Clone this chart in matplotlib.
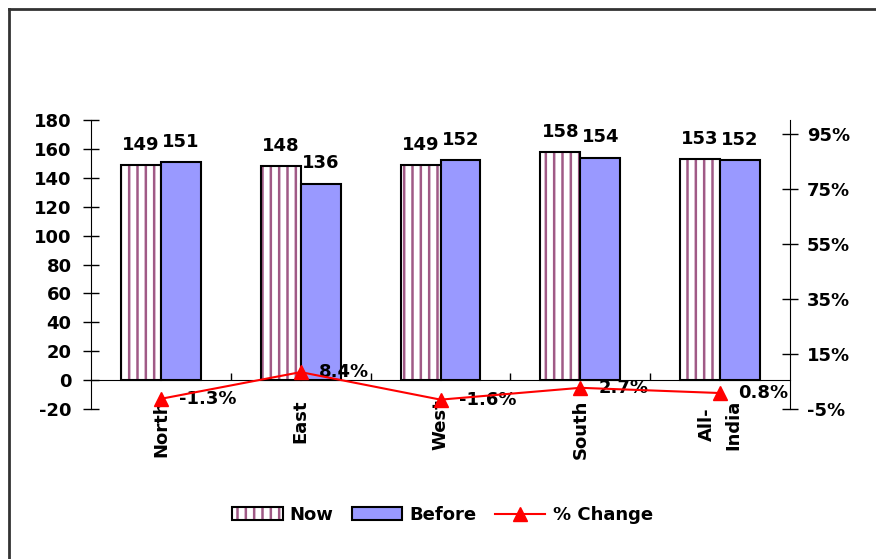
import numpy as np
import matplotlib.pyplot as plt
from matplotlib.lines import Line2D
from matplotlib.patches import Patch
from matplotlib.legend_handler import HandlerTuple

regions = ["North", "East", "West", "South", "All-\nIndia"]
now = [149, 148, 149, 158, 153]
before = [151, 136, 152, 154, 152]
pct_change = [-1.3, 8.4, -1.6, 2.7, 0.8]

plt.rcParams['font.family'] = ['DejaVu Sans']
plt.rcParams['font.weight'] = 'bold'
plt.rcParams['font.size'] = 13
plt.rcParams['hatch.linewidth'] = 1.8
plt.rcParams['axes.unicode_minus'] = False

stripe = '#a05a86'
blue = '#9999ff'

fig = plt.figure(figsize=(8.76, 5.59), dpi=100)
ax = fig.add_axes([91/876, 1 - 409/559, (790 - 91)/876, (409 - 120)/559])
ax2 = ax.twinx()

x = np.arange(len(regions))
w = 0.286

# "Now" bars: stripes underneath, black outline on top
ax.bar(x - w/2, now, w, color='white', edgecolor=stripe, hatch='||', linewidth=0, zorder=2)
ax.bar(x - w/2, now, w, color='none', edgecolor='black', linewidth=1.5, zorder=3)
ax.bar(x + w/2, before, w, color=blue, edgecolor='black', linewidth=1.5, zorder=3)

for i in range(len(regions)):
    ax.annotate(str(now[i]), (x[i] - w/2, now[i]), xytext=(0, 11), textcoords='offset points',
                ha='center', va='baseline', fontweight='bold')
    ax.annotate(str(before[i]), (x[i] + w/2, before[i]), xytext=(0, 11), textcoords='offset points',
                ha='center', va='baseline', fontweight='bold')
    ax.annotate(regions[i], (x[i], 0), xytext=(0, -14), textcoords='offset points',
                rotation=90, ha='center', va='top', multialignment='center',
                linespacing=1.6, fontweight='bold')

ax.set_xlim(-0.5, len(regions) - 0.5)
ax.set_ylim(-20, 180)
ax.set_yticks(range(-20, 181, 20))
ax.set_xticks(np.arange(0.5, len(regions) - 0.5, 1))
ax.set_xticklabels([])
ax.tick_params(axis='x', direction='in', length=5, width=1, color='black')
ax.tick_params(axis='y', direction='inout', length=12, width=1, pad=8)
ax.spines['bottom'].set_position(('data', 0))
for s in ['top', 'right']:
    ax.spines[s].set_visible(False)

ax2.plot(x, pct_change, color='red', linewidth=1.5, marker='^', markersize=10, zorder=4)
for i in range(len(regions)):
    ax2.annotate(f"{pct_change[i]}%", (x[i], pct_change[i]), xytext=(13, 0),
                 textcoords='offset points', ha='left', va='center', fontweight='bold')
ax2.set_ylim(-5, 100)
ax2.set_yticks(range(-5, 96, 20))
ax2.set_yticklabels([f"{t}%" for t in range(-5, 96, 20)])
ax2.tick_params(axis='y', direction='inout', length=12, width=1, pad=6)
for s in ['top', 'left', 'bottom']:
    ax2.spines[s].set_visible(False)

# legend
h_now = (Patch(facecolor='white', edgecolor=stripe, hatch='||', linewidth=0),
         Patch(facecolor='none', edgecolor='black', linewidth=1.5))
h_before = Patch(facecolor=blue, edgecolor='black', linewidth=1.5)
h_pct = Line2D([], [], color='red', linewidth=1.5, marker='^', markersize=10)
fig.legend([h_now, h_before, h_pct], ["Now", "Before", "% Change"],
           handler_map={tuple: HandlerTuple(ndivide=1, pad=0)},
           loc='center', bbox_to_anchor=(0.505, 0.079), ncol=3, frameon=False,
           handlelength=2.8, handletextpad=0.4, columnspacing=1.0)

# outer frame (only left and top edges are visible)
fig.add_artist(Line2D([9/876, 9/876], [0, 1 - 9/559], transform=fig.transFigure, color='#333333', lw=2))
fig.add_artist(Line2D([9/876, 1], [1 - 9/559, 1 - 9/559], transform=fig.transFigure, color='#333333', lw=2))

fig.savefig('out.png', dpi=100)
